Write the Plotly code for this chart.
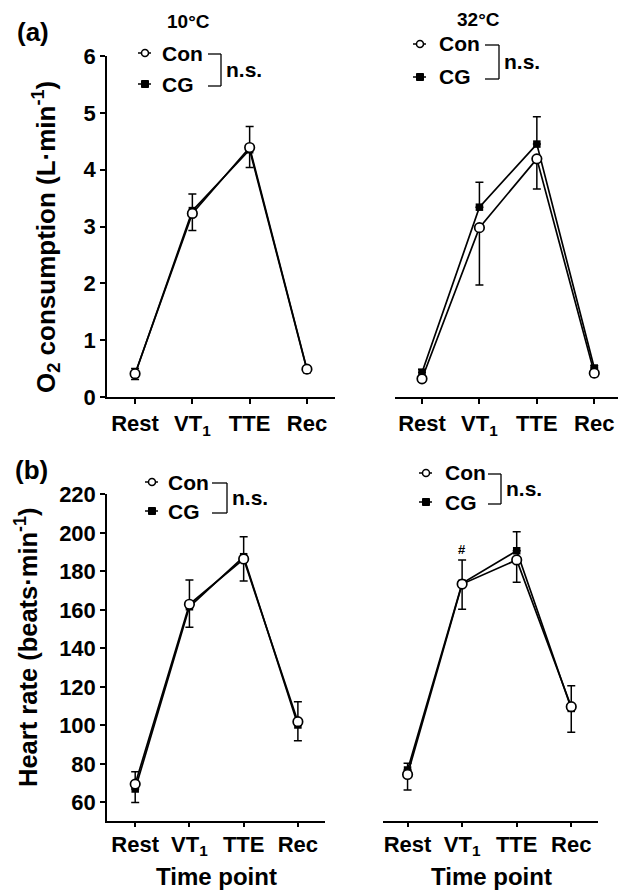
import plotly.graph_objects as go

W, H = 626, 895
OFF = 8  # page body margin of the browser
FONT = "Liberation Sans, Arial, sans-serif"

# ---------------- data ----------------
time_points = ["Rest", "VT1", "TTE", "Rec"]
tick_text = ["Rest", "VT<sub>1</sub>", "TTE", "Rec"]

# O2 consumption (L/min), 10 °C
o2_10_con = [0.41, 3.23, 4.39, 0.49]
o2_10_con_sd = [0.10, 0.30, 0.35, 0.06]
o2_10_cg = [0.40, 3.28, 4.35, 0.48]
o2_10_cg_sd = [0.10, 0.29, 0.41, 0.05]

# O2 consumption (L/min), 32 °C
o2_32_con = [0.32, 2.98, 4.19, 0.42]
o2_32_con_sd = [0.05, 1.01, 0.53, 0.06]
o2_32_cg = [0.43, 3.34, 4.45, 0.51]
o2_32_cg_sd = [0.06, 0.44, 0.48, 0.04]

# Heart rate (beats/min), 10 °C
hr_10_con = [69.5, 162.9, 186.4, 101.9]
hr_10_con_sd = [9.5, 12.0, 11.4, 9.9]
hr_10_cg = [66.9, 161.6, 187.6, 100.2]
hr_10_cg_sd = [9.0, 13.9, 10.4, 12.1]

# Heart rate (beats/min), 32 °C
hr_32_con = [74.5, 173.4, 185.9, 109.7]
hr_32_con_sd = [8.1, 13.1, 11.6, 13.3]
hr_32_cg = [76.8, 173.8, 190.7, 108.8]
hr_32_cg_sd = [3.5, 12.1, 9.9, 11.8]

o2_ticks = [0, 1, 2, 3, 4, 5, 6]
hr_ticks = [60, 80, 100, 120, 140, 160, 180, 200, 220]

# ---------------- helpers ----------------
def px(x):
    return (x - OFF) / W

def py(y):
    return 1 - (y - OFF) / H

xpos = list(range(len(time_points)))

fig = go.Figure()

panels = [
    ("", o2_10_con, o2_10_con_sd, o2_10_cg, o2_10_cg_sd),
    ("2", o2_32_con, o2_32_con_sd, o2_32_cg, o2_32_cg_sd),
    ("3", hr_10_con, hr_10_con_sd, hr_10_cg, hr_10_cg_sd),
    ("4", hr_32_con, hr_32_con_sd, hr_32_cg, hr_32_cg_sd),
]

for suf, con, con_sd, cg, cg_sd in panels:
    xa = "x" + suf
    ya = "y" + suf
    fig.add_trace(go.Scatter(
        x=xpos, y=cg, xaxis=xa, yaxis=ya, mode="lines+markers", name="CG",
        line=dict(color="black", width=1.7),
        marker=dict(symbol="square", size=7.5, color="black"),
        error_y=dict(type="data", symmetric=False, array=cg_sd,
                     arrayminus=[0] * len(cg), color="black", thickness=1.5, width=4),
    ))
    fig.add_trace(go.Scatter(
        x=xpos, y=con, xaxis=xa, yaxis=ya, mode="lines+markers", name="Con",
        line=dict(color="black", width=1.7),
        marker=dict(symbol="circle", size=9.5, color="white",
                    line=dict(color="black", width=1.7)),
        error_y=dict(type="data", symmetric=False, array=[0] * len(con),
                     arrayminus=con_sd, color="black", thickness=1.5, width=4),
    ))

tickfont = dict(family=FONT, size=22, color="black", weight="bold")

def xaxis_cfg(dom, rng, ya, standoff):
    return dict(domain=dom, range=rng, anchor=ya, showline=True, linecolor="black",
                linewidth=1.5, ticks="outside", ticklen=5, tickwidth=1.5,
                tickcolor="black", tickvals=xpos, ticktext=tick_text,
                tickfont=tickfont, showgrid=False, zeroline=False,
                ticklabelstandoff=standoff, automargin=False)

def yaxis_cfg(dom, rng, xa, tv, show=True):
    d = dict(domain=dom, range=rng, anchor=xa, showgrid=False, zeroline=False,
             automargin=False)
    if show:
        d.update(showline=True, linecolor="black", linewidth=1.5, ticks="outside",
                 ticklen=5, tickwidth=1.5, tickcolor="black", tickvals=tv,
                 tickfont=tickfont)
    else:
        d.update(visible=False)
    return d

ya_dom = [py(397), py(56)]
yb_dom = [py(820.7), py(494.3)]
o2_range = [0, 6]
hr_range = [50.5, 220]

fig.update_layout(
    template="none",
    width=W, height=H,
    margin=dict(l=0, r=0, t=0, b=0, pad=0, autoexpand=False),
    paper_bgcolor="white", plot_bgcolor="white",
    showlegend=False,
    font=dict(family=FONT, color="black"),
    xaxis=xaxis_cfg([px(107), px(335)], [-0.49, 3.49], "y", 1),
    yaxis=yaxis_cfg(ya_dom, o2_range, "x", o2_ticks),
    xaxis2=xaxis_cfg([px(395), px(623)], [-0.47, 3.5], "y2", 1),
    yaxis2=yaxis_cfg(ya_dom, o2_range, "x2", o2_ticks, show=False),
    xaxis3=xaxis_cfg([px(107), px(325)], [-0.52, 3.5], "y3", -2),
    yaxis3=yaxis_cfg(yb_dom, hr_range, "x3", hr_ticks),
    xaxis4=xaxis_cfg([px(383), px(598)], [-0.45, 3.49], "y4", -2),
    yaxis4=yaxis_cfg(yb_dom, hr_range, "x4", hr_ticks, show=False),
)

ann = []
def text(x, y, s, size, xanchor="center", angle=0):
    ann.append(dict(x=px(x), y=py(y), xref="paper", yref="paper", text=s,
                    showarrow=False, xanchor=xanchor, yanchor="middle",
                    textangle=angle,
                    font=dict(family=FONT, size=size, color="black")))

# panel labels
text(33, 32, "<b>(a)</b>", 26)
text(31, 470, "<b>(b)</b>", 26)
# temperatures
text(188, 22, "<b>10°C</b>", 19)
text(478, 20, "<b>32°C</b>", 19)
# y titles
text(46, 237, "<b>O<sub>2</sub> consumption (L·min<sup>-1</sup>)</b>", 26, angle=-90)
text(26, 648, "<b>Heart rate (beats·min<sup>-1</sup>)</b>", 25.5, angle=-90)
# x titles
text(216, 876, "<b>Time point</b>", 24)
text(491, 876, "<b>Time point</b>", 24)
# '#' marker
text(462, 549, "<b>#</b>", 13)

shapes = []

def legend(mx, y_con, y_cg, tx, bx0, bx1, nsx):
    shapes.append(dict(type="line", xref="paper", yref="paper",
                       x0=px(mx - 7), x1=px(mx + 6), y0=py(y_con), y1=py(y_con),
                       line=dict(color="black", width=1.5)))
    shapes.append(dict(type="circle", xref="paper", yref="paper",
                       xsizemode="pixel", ysizemode="pixel",
                       xanchor=px(mx), yanchor=py(y_con),
                       x0=-3.5, x1=3.5, y0=-3.5, y1=3.5,
                       fillcolor="white", line=dict(color="black", width=1.5)))
    shapes.append(dict(type="line", xref="paper", yref="paper",
                       x0=px(mx - 7), x1=px(mx + 6), y0=py(y_cg), y1=py(y_cg),
                       line=dict(color="black", width=1.5)))
    shapes.append(dict(type="rect", xref="paper", yref="paper",
                       xsizemode="pixel", ysizemode="pixel",
                       xanchor=px(mx), yanchor=py(y_cg),
                       x0=-3.5, x1=3.5, y0=-3.5, y1=3.5,
                       fillcolor="black", line=dict(color="black", width=1)))
    text(tx, y_con, "<b>Con</b>", 21, xanchor="left")
    text(tx, y_cg, "<b>CG</b>", 21, xanchor="left")
    for yy in (y_con + 1, y_cg + 2):
        shapes.append(dict(type="line", xref="paper", yref="paper",
                           x0=px(bx0), x1=px(bx1), y0=py(yy), y1=py(yy),
                           line=dict(color="black", width=1.3)))
    shapes.append(dict(type="line", xref="paper", yref="paper",
                       x0=px(bx1), x1=px(bx1), y0=py(y_con + 1), y1=py(y_cg + 2),
                       line=dict(color="black", width=1.3)))
    text(nsx, (y_con + y_cg) / 2 + 1, "<b>n.s.</b>", 21, xanchor="left")

legend(145, 53, 84, 160, 208, 221, 224)
legend(420, 44, 77, 437, 485, 499, 502)
legend(152, 482, 511, 166, 212, 227, 230)
legend(426, 473, 502, 443, 488, 501, 504)

fig.update_layout(annotations=ann, shapes=shapes)

fig.write_html("out.html")
